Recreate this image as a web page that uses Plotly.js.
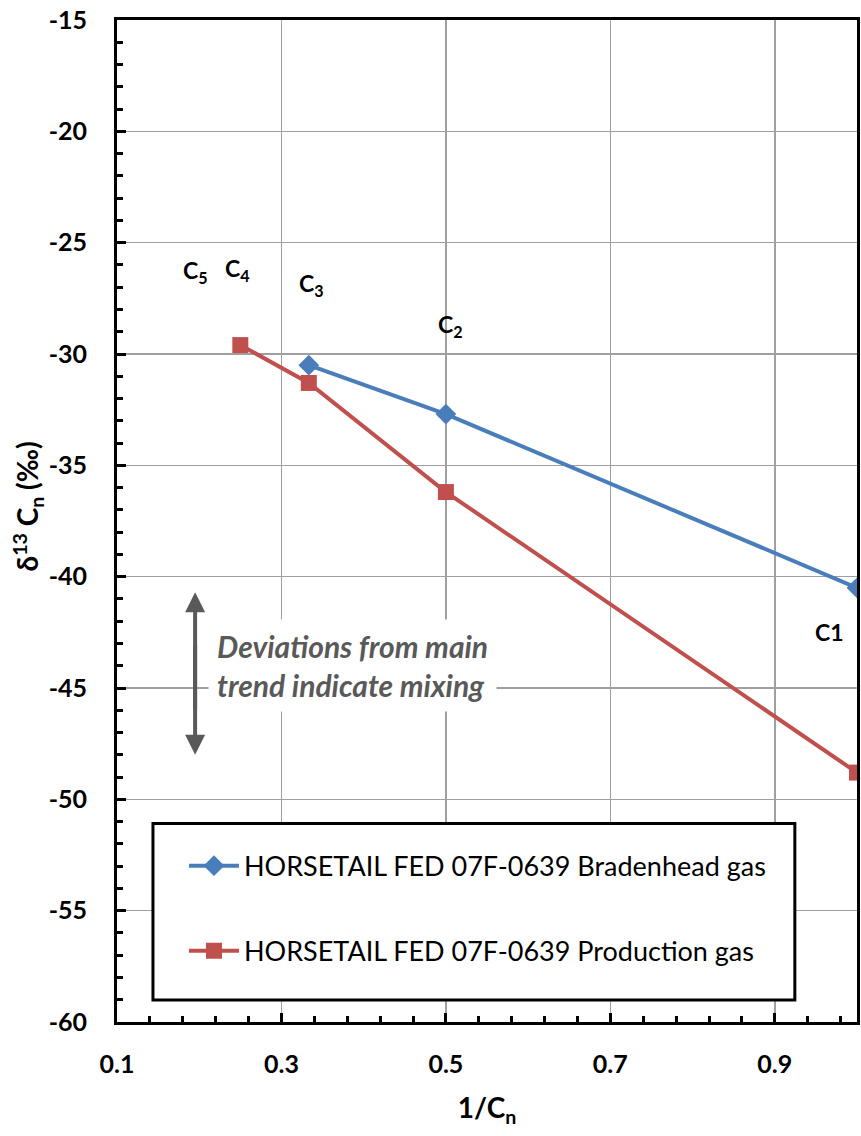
<!DOCTYPE html>
<html>
<head>
<meta charset="utf-8">
<script src="https://cdn.plot.ly/plotly-3.0.1.min.js"></script>
<style>html,body{margin:0;padding:0;background:#fff;}#chart{width:861px;height:1136px;}</style>
</head>
<body>
<div id="chart"></div>
<script>
// Data
const bradenheadX = [0.3333, 0.5, 1.0];
const bradenheadY = [-30.5, -32.7, -40.5];
const productionX = [0.25, 0.3333, 0.5, 1.0];
const productionY = [-29.6, -31.3, -36.2, -48.8];
const seriesNames = ["HORSETAIL FED 07F-0639 Bradenhead gas", "HORSETAIL FED 07F-0639 Production gas"];
const compLabels = ["C<sub>5</sub>", "C<sub>4</sub>", "C<sub>3</sub>", "C<sub>2</sub>", "C1"];
const compLabelX = [0.195, 0.247, 0.337, 0.506, 0.966];
const compLabelY = [-26.3, -26.2, -26.9, -28.7, -42.5];
const xTickVals = [0.1, 0.3, 0.5, 0.7, 0.9];
const xTickText = ["0.1", "0.3", "0.5", "0.7", "0.9"];
const yTickVals = [-60, -55, -50, -45, -40, -35, -30, -25, -20, -15];
const yTickText = ["-60", "-55", "-50", "-45", "-40", "-35", "-30", "-25", "-20", "-15"];

const FONT = "Lato, 'Open Sans', sans-serif";

const traces = [
  {
    x: bradenheadX, y: bradenheadY, name: seriesNames[0], mode: "lines+markers",
    legendgroup: "a",
    line: {color: "#4a7ebb", width: 4},
    marker: {symbol: "diamond", size: 16, color: "#4a7ebb"}
  },
  {
    x: productionX, y: productionY, name: seriesNames[1], mode: "lines+markers",
    legendgroup: "b",
    line: {color: "#c0504d", width: 4},
    marker: {symbol: "square", size: 16, color: "#c0504d"}
  }
];

const annotations = compLabels.map((t, i) => ({
  x: compLabelX[i], y: compLabelY[i], xref: "x", yref: "y", text: t, showarrow: false,
  font: {family: FONT, size: 23, color: "#000", weight: "bold"}
}));

annotations.push({
  x: 0.2107, y: -44.0, xref: "x", yref: "y", xanchor: "left", yanchor: "middle",
  text: "<i>Deviations from main<br>trend indicate mixing</i>", showarrow: false, align: "left",
  bgcolor: "#ffffff", borderpad: 8,
  font: {family: FONT, size: 30, color: "#595959", weight: "bold"}
});
annotations.push({
  x: 0.195, y: -40.7, ax: 0.195, ay: -46.0, xref: "x", yref: "y", axref: "x", ayref: "y",
  text: "", showarrow: true, arrowhead: 2, arrowsize: 1, arrowwidth: 4, arrowcolor: "#595959"
});
annotations.push({
  x: 0.195, y: -48.0, ax: 0.195, ay: -43.0, xref: "x", yref: "y", axref: "x", ayref: "y",
  text: "", showarrow: true, arrowhead: 2, arrowsize: 1, arrowwidth: 4, arrowcolor: "#595959"
});
// y-axis title (placed as annotation to match offset)
annotations.push({
  x: -0.15, y: 0.514, xref: "paper", yref: "paper", showarrow: false, textangle: -90,
  text: "δ<sup>13</sup> C<sub>n</sub> (‰)",
  font: {family: FONT, size: 28, color: "#000", weight: "bold"}
});

const layout = {
  width: 861, height: 1136,
  margin: {l: 117, r: 4, t: 20, b: 114},
  paper_bgcolor: "#fff", plot_bgcolor: "#fff",
  font: {family: FONT, color: "#000"},
  showlegend: true,
  legend: {
    x: 0.0905, y: 0.18, xanchor: "left", yanchor: "top",
    bgcolor: "rgba(0,0,0,0)", borderwidth: 0,
    font: {family: FONT, size: 27, color: "#000"},
    tracegroupgap: 47, itemwidth: 50
  },
  xaxis: {
    range: [0.1, 1.0], tickvals: xTickVals, ticktext: xTickText,
    showgrid: true, gridcolor: "#a0a0a0", gridwidth: 1.5,
    showline: true, linecolor: "#000", linewidth: 3, mirror: true,
    ticks: "inside", ticklen: 9, tickwidth: 3, tickcolor: "#000",
    minor: {dtick: 0.04, tick0: 0.1, ticks: "inside", ticklen: 6, tickwidth: 3, tickcolor: "#000", showgrid: false},
    tickfont: {family: FONT, size: 25, color: "#000", weight: "bold"},
    ticklabelstandoff: 18,
    zeroline: false,
    title: {text: "1/C<sub>n</sub>", font: {family: FONT, size: 28, color: "#000", weight: "bold"}, standoff: 22}
  },
  yaxis: {
    range: [-60, -15], tickvals: yTickVals, ticktext: yTickText,
    showgrid: true, gridcolor: "#a0a0a0", gridwidth: 1.5,
    showline: true, linecolor: "#000", linewidth: 3, mirror: true,
    ticks: "inside", ticklen: 9, tickwidth: 3, tickcolor: "#000",
    minor: {dtick: 1, ticks: "inside", ticklen: 6, tickwidth: 3, tickcolor: "#000", showgrid: false},
    tickfont: {family: FONT, size: 25, color: "#000", weight: "bold"},
    ticklabelstandoff: 22,
    zeroline: false
  },
  shapes: [{
    type: "rect", xref: "paper", yref: "paper", x0: 0.0486, x1: 0.916, y0: 0.022, y1: 0.198,
    line: {color: "#000", width: 3}, fillcolor: "#fff", layer: "above"
  }],
  annotations: annotations
};

Plotly.newPlot("chart", traces, layout, {displayModeBar: false, staticPlot: true});
</script>
</body>
</html>
